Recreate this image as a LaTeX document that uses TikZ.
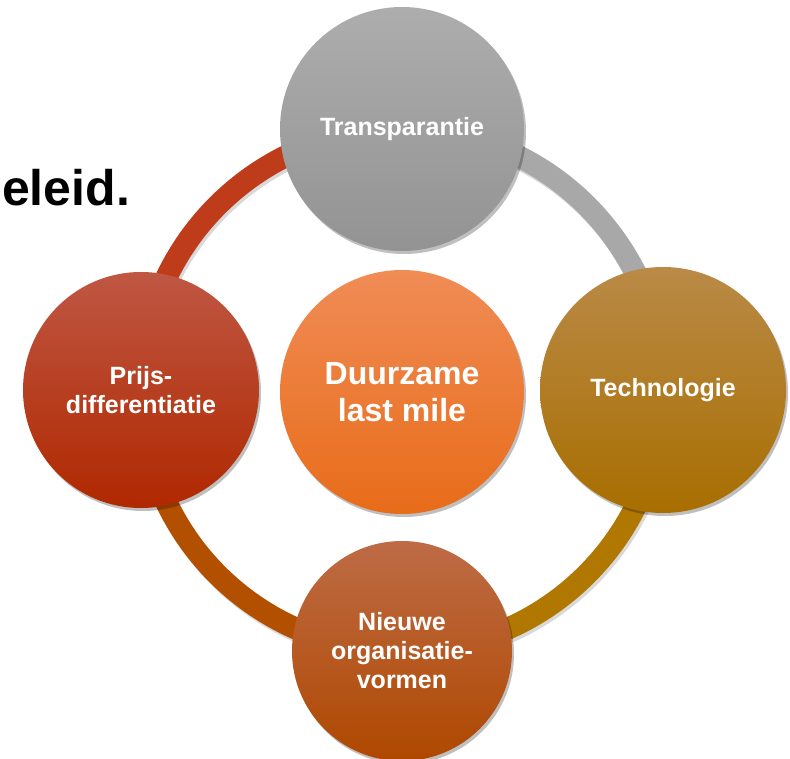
\documentclass[tikz,border=0pt]{standalone}
\usepackage{fontspec}
\setmainfont{Liberation Sans}
\usetikzlibrary{shadows,backgrounds}

\definecolor{grijsA}{HTML}{ADADAD}
\definecolor{grijsB}{HTML}{939393}
\definecolor{goudA}{HTML}{BA8A47}
\definecolor{goudB}{HTML}{B27A08}
\definecolor{goudC}{HTML}{A86E00}
\definecolor{roodA}{HTML}{BF5743}
\definecolor{roodB}{HTML}{BA3212}
\definecolor{roodC}{HTML}{B02800}
\definecolor{oranjeA}{HTML}{F08C56}
\definecolor{oranjeB}{HTML}{F27D2C}
\definecolor{oranjeC}{HTML}{E86C19}
\definecolor{bruinA}{HTML}{BE6B46}
\definecolor{bruinB}{HTML}{B8540C}
\definecolor{bruinC}{HTML}{AF4800}
\definecolor{ringrood}{HTML}{BE3C1A}
\definecolor{ringgrijs}{HTML}{A8A8A8}
\definecolor{ringgoud}{HTML}{B07800}
\definecolor{ringbruin}{HTML}{B35000}

\tikzset{
  bol/.style={circle, draw=none, text=white, align=center, inner sep=0pt,
    font=\bfseries\fontsize{25}{29}\selectfont,
    drop shadow={shadow xshift=2pt, shadow yshift=-3pt, opacity=0.25, fill=black}},
  ring/.style={line width=22pt},
}

\begin{document}
\begin{tikzpicture}[x=1pt,y=1pt]
  \useasboundingbox (-402,-368) rectangle (388,390);
  \clip (-402,-368) rectangle (388,390);

  \node[anchor=base west, inner sep=0pt, font=\bfseries\fontsize{50}{58}\selectfont] (titel) at (-400,184) {eleid.};

  \node[bol, minimum size=244pt, top color=grijsA, bottom color=grijsB] (transp) at (0,261) {Transparantie};
  \node[bol, minimum size=236pt, top color=roodA, middle color=roodB, bottom color=roodC] (prijs) at (-261,0) {Prijs-\\differentiatie};
  \node[bol, minimum size=246pt, top color=goudA, middle color=goudB, bottom color=goudC] (techn) at (261,0) {Technologie};
  \node[bol, minimum size=220pt, top color=bruinA, middle color=bruinB, bottom color=bruinC] (nieuw) at (0,-261) {Nieuwe\\organisatie-\\vormen};
  \node[bol, minimum size=244pt, top color=oranjeA, middle color=oranjeB, bottom color=oranjeC,
        font=\bfseries\fontsize{32}{37}\selectfont] (midden) at (0,-2) {Duurzame\\last mile};

  \begin{scope}[on background layer]
    \draw[ring, black, opacity=0.15] (2,-3) circle[radius=261pt];
    \draw[ring, ringrood] (transp.center) arc[start angle=90, end angle=180, radius=261pt];
    \draw[ring, ringgrijs] (transp.center) arc[start angle=90, end angle=0, radius=261pt];
    \draw[ring, ringgoud] (techn.center) arc[start angle=0, end angle=-90, radius=261pt];
    \draw[ring, ringbruin] (nieuw.center) arc[start angle=270, end angle=180, radius=261pt];
  \end{scope}
\end{tikzpicture}
\end{document}
